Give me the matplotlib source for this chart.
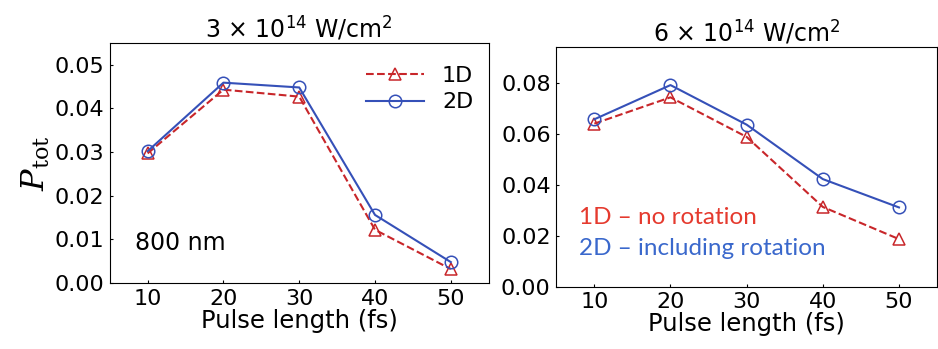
import numpy as np
import matplotlib.pyplot as plt

# pulse lengths (fs)
pulse = [10, 20, 30, 40, 50]

# 3e14 W/cm2
p3_1d = [0.0297, 0.0443, 0.0427, 0.0122, 0.0032]
p3_2d = [0.0302, 0.0459, 0.0448, 0.0156, 0.0048]

# 6e14 W/cm2
p6_1d = [0.0639, 0.0742, 0.0587, 0.0313, 0.0187]
p6_2d = [0.0656, 0.0790, 0.0635, 0.0422, 0.0311]

titles = [r"3 × 10$^{\mathsf{14}}$ W/cm$^{\mathsf{2}}$",
          r"6 × 10$^{\mathsf{14}}$ W/cm$^{\mathsf{2}}$"]

plt.rcParams['font.family'] = 'DejaVu Sans'
plt.rcParams['mathtext.fontset'] = 'custom'
plt.rcParams['mathtext.rm'] = 'DejaVu Serif'
plt.rcParams['mathtext.it'] = 'DejaVu Serif:italic'
plt.rcParams['mathtext.sf'] = 'DejaVu Sans'

red = '#c8262a'
blue = '#3550b8'

fig = plt.figure(figsize=(9.38, 3.49), dpi=100)
ax1 = fig.add_axes([0.117, 0.189, 0.404, 0.688])
ax2 = fig.add_axes([0.593, 0.178, 0.406, 0.688])

for ax, y1, y2, ttl in [(ax1, p3_1d, p3_2d, titles[0]), (ax2, p6_1d, p6_2d, titles[1])]:
    ax.plot(pulse, y1, '--', color=red, lw=1.5, marker='^', ms=9,
            mfc='none', mec=red, mew=1.1, label='1D')
    ax.plot(pulse, y2, '-', color=blue, lw=1.5, marker='o', ms=9,
            mfc='none', mec=blue, mew=1.1, label='2D')
    ax.set_xlim(5, 55)
    ax.set_xticks(pulse)
    ax.tick_params(direction='in', length=2, labelsize=16, pad=4)
    ax.set_xlabel('Pulse length (fs)', fontsize=17.5, labelpad=0)
    ax.set_title(ttl, fontsize=17, pad=4)

ax1.set_ylim(0, 0.055)
ax1.set_yticks([0, 0.01, 0.02, 0.03, 0.04, 0.05])
ax1.set_yticklabels(['0.00', '0.01', '0.02', '0.03', '0.04', '0.05'])
ax1.set_ylabel(r'$P_{\mathrm{tot}}$', fontsize=23, labelpad=2)
ax1.legend(loc='upper right', frameon=False, fontsize=16, handlelength=2.6,
           borderaxespad=0.3, labelspacing=0.3, bbox_to_anchor=(1.0, 0.97))
ax1.text(0.066, 0.167, '800 nm', transform=ax1.transAxes, fontsize=17,
         va='center')

ax2.set_ylim(0, 0.094)
ax2.set_yticks([0, 0.02, 0.04, 0.06, 0.08])
ax2.set_yticklabels(['0.00', '0.02', '0.04', '0.06', '0.08'])
ax2.text(0.06, 0.29, '1D – no rotation', transform=ax2.transAxes, fontsize=17.5,
         color='#e53a2e', va='center', family='Lato')
ax2.text(0.06, 0.16, '2D – including rotation', transform=ax2.transAxes, fontsize=17.5,
         color='#3a68cc', va='center', family='Lato')

fig.savefig('out.png', dpi=100)
